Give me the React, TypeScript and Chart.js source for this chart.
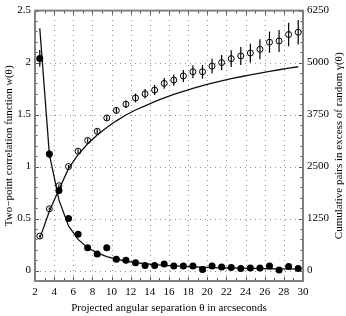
import React, { useEffect, useRef } from 'react';
import { Chart, registerables } from 'chart.js';
Chart.register(...registerables);

// ---- data ----
const thetaBins = [2.5, 3.5, 4.5, 5.5, 6.5, 7.5, 8.5, 9.5, 10.5, 11.5, 12.5, 13.5, 14.5, 15.5, 16.5, 17.5, 18.5, 19.5, 20.5, 21.5, 22.5, 23.5, 24.5, 25.5, 26.5, 27.5, 28.5, 29.5];
const wValues = [2.04, 1.12, 0.77, 0.5, 0.35, 0.22, 0.16, 0.22, 0.11, 0.1, 0.076, 0.05, 0.05, 0.064, 0.045, 0.045, 0.045, 0.01, 0.045, 0.035, 0.03, 0.02, 0.025, 0.025, 0.045, 0.005, 0.04, 0.02];
const wErrors = [0.08, 0.04, 0.03, 0.03, 0.025, 0.02, 0.02, 0.02, 0.015, 0.015, 0.015, 0.012, 0.012, 0.012, 0.012, 0.01, 0.01, 0.01, 0.01, 0.01, 0.01, 0.01, 0.01, 0.01, 0.01, 0.01, 0.01, 0.01];
const wFit = [2.33, 1.12, 0.68, 0.43, 0.3, 0.22, 0.17, 0.135, 0.11, 0.09, 0.077, 0.066, 0.057, 0.05, 0.045, 0.04, 0.036, 0.032, 0.029, 0.027, 0.025, 0.023, 0.021, 0.02, 0.018, 0.017, 0.016, 0.015];
const gammaValues = [830, 1485, 2040, 2500, 2870, 3130, 3350, 3670, 3850, 4000, 4150, 4250, 4340, 4500, 4580, 4680, 4780, 4780, 4915, 5000, 5095, 5160, 5230, 5320, 5490, 5520, 5675, 5730];
const gammaErrors = [25, 30, 35, 40, 45, 50, 55, 60, 70, 90, 105, 115, 120, 130, 135, 145, 155, 165, 175, 185, 200, 215, 225, 240, 255, 265, 280, 292];
const gammaFit = [775, 1425, 1950, 2450, 2790, 3050, 3260, 3440, 3600, 3740, 3860, 3960, 4060, 4150, 4235, 4310, 4380, 4445, 4505, 4560, 4612, 4660, 4705, 4748, 4790, 4828, 4865, 4900];
const xTicks = [2, 4, 6, 8, 10, 12, 14, 16, 18, 20, 22, 24, 26, 28, 30];
const yLeftTicks = [0, 0.5, 1, 1.5, 2, 2.5];
const yRightTicks = [0, 1250, 2500, 3750, 5000, 6250];

const X_TITLE = 'Projected angular separation θ in arcseconds';
const LEFT_TITLE = [
  { t: 'Two−point correlation function ', i: false },
  { t: 'w', i: true },
  { t: '(θ)', i: false },
];
const RIGHT_TITLE = [
  { t: 'Cumulative pairs in excess of random ', i: false },
  { t: 'γ', i: false },
  { t: '(θ)', i: false },
];

const FONT = "'Liberation Serif', 'Times New Roman', serif";

function drawRich(ctx: CanvasRenderingContext2D, parts: { t: string; i: boolean }[], size: number) {
  let total = 0;
  const widths = parts.map((p) => {
    ctx.font = `${p.i ? 'italic ' : ''}${size}px ${FONT}`;
    const w = ctx.measureText(p.t).width;
    total += w;
    return w;
  });
  let x = -total / 2;
  parts.forEach((p, k) => {
    ctx.font = `${p.i ? 'italic ' : ''}${size}px ${FONT}`;
    ctx.fillText(p.t, x, 0);
    x += widths[k];
  });
}

const decorPlugin = {
  id: 'decor',
  beforeDatasetsDraw(chart: any) {
    const { ctx, chartArea, scales } = chart;
    const { left, right, top, bottom } = chartArea;
    const x = scales.x, y = scales.y, y1 = scales.y1;
    ctx.save();
    // dotted grid
    ctx.strokeStyle = '#909090';
    ctx.lineWidth = 1;
    ctx.setLineDash([1, 4]);
    xTicks.forEach((v) => {
      if (v <= x.min || v >= x.max) return;
      const px = Math.round(x.getPixelForValue(v)) + 0.5;
      ctx.beginPath();
      ctx.moveTo(px, bottom);
      ctx.lineTo(px, top);
      ctx.stroke();
    });
    yLeftTicks.forEach((v) => {
      if (v >= y.max) return;
      const py = Math.round(y.getPixelForValue(v)) + 0.5;
      ctx.beginPath();
      ctx.moveTo(left, py);
      ctx.lineTo(right, py);
      ctx.stroke();
    });
    ctx.setLineDash([]);
    // error bars
    ctx.strokeStyle = '#000';
    ctx.lineWidth = 1.2;
    thetaBins.forEach((t, i) => {
      const px = x.getPixelForValue(t);
      ctx.beginPath();
      ctx.moveTo(px, y.getPixelForValue(wValues[i] - wErrors[i]));
      ctx.lineTo(px, y.getPixelForValue(wValues[i] + wErrors[i]));
      ctx.stroke();
      ctx.beginPath();
      ctx.moveTo(px, y1.getPixelForValue(gammaValues[i] - gammaErrors[i]));
      ctx.lineTo(px, y1.getPixelForValue(gammaValues[i] + gammaErrors[i]));
      ctx.stroke();
    });
    ctx.restore();
  },
  afterDraw(chart: any) {
    const { ctx, chartArea, scales } = chart;
    const { left, right, top, bottom } = chartArea;
    const x = scales.x, y = scales.y;
    ctx.save();
    // inward ticks
    ctx.strokeStyle = '#555';
    ctx.lineWidth = 1;
    for (let v = 2; v <= 30; v += 1) {
      const px = Math.round(x.getPixelForValue(v)) + 0.5;
      const len = v % 2 === 0 ? 4 : 3;
      ctx.beginPath();
      ctx.moveTo(px, bottom);
      ctx.lineTo(px, bottom - len);
      ctx.moveTo(px, top);
      ctx.lineTo(px, top + len);
      ctx.stroke();
    }
    for (let k = -1; k <= 25; k++) {
      const v = k / 10;
      const py = Math.round(y.getPixelForValue(v)) + 0.5;
      const len = k % 5 === 0 ? 4 : 2.5;
      ctx.beginPath();
      ctx.moveTo(left, py);
      ctx.lineTo(left + len, py);
      ctx.moveTo(right, py);
      ctx.lineTo(right - len, py);
      ctx.stroke();
    }
    // frame
    ctx.strokeStyle = '#808080';
    ctx.lineWidth = 2;
    ctx.strokeRect(left, top, right - left, bottom - top);
    // titles
    ctx.fillStyle = '#000';
    ctx.textBaseline = 'middle';
    ctx.textAlign = 'left';
    const cy = (top + bottom) / 2;
    ctx.save();
    ctx.translate(9, cy);
    ctx.rotate(-Math.PI / 2);
    drawRich(ctx, LEFT_TITLE, 11);
    ctx.restore();
    ctx.save();
    ctx.translate(339, cy);
    ctx.rotate(-Math.PI / 2);
    drawRich(ctx, RIGHT_TITLE, 11);
    ctx.restore();
    ctx.save();
    ctx.translate((left + right) / 2, 308);
    drawRich(ctx, [{ t: X_TITLE, i: false }], 11);
    ctx.restore();
    ctx.restore();
  },
};

export default function App() {
  const ref = useRef<HTMLCanvasElement>(null);
  useEffect(() => {
    if (!ref.current) return;
    const pts = (vals: number[]) => thetaBins.map((t, i) => ({ x: t, y: vals[i] }));
    const tickFont = { family: FONT, size: 11 };
    const plain = (v: any) => String(v);
    const chart = new Chart(ref.current, {
      type: 'line',
      data: {
        datasets: [
          {
            data: pts(wValues), yAxisID: 'y', showLine: false,
            pointRadius: 3.5, pointBackgroundColor: '#000', pointBorderColor: '#000', pointBorderWidth: 0,
          },
          {
            data: pts(wFit), yAxisID: 'y', borderColor: '#111', borderWidth: 1.3, pointRadius: 0, tension: 0,
          },
          {
            data: pts(gammaValues), yAxisID: 'y1', showLine: false,
            pointRadius: 3, pointBackgroundColor: 'rgba(0,0,0,0)', pointBorderColor: '#000', pointBorderWidth: 1,
          },
          {
            data: pts(gammaFit), yAxisID: 'y1', borderColor: '#111', borderWidth: 1.3, pointRadius: 0, tension: 0,
          },
        ] as any,
      },
      options: {
        responsive: false,
        animation: false,
        layout: { padding: { top: 9, left: 0, right: 0, bottom: 0 } },
        plugins: { legend: { display: false }, tooltip: { enabled: false } },
        scales: {
          x: {
            type: 'linear', min: 2, max: 30,
            afterBuildTicks: (s: any) => { s.ticks = xTicks.map((v) => ({ value: v })); },
            afterFit: (s: any) => { s.height = 35; },
            grid: { display: false, drawTicks: false },
            border: { display: false },
            ticks: { font: tickFont, color: '#000', padding: 5, maxRotation: 0, autoSkip: false, callback: plain },
          },
          y: {
            type: 'linear', position: 'left', min: -0.1, max: 2.5,
            afterBuildTicks: (s: any) => { s.ticks = yLeftTicks.map((v) => ({ value: v })); },
            afterFit: (s: any) => { s.width = 35; },
            grid: { display: false, drawTicks: false },
            border: { display: false },
            ticks: { font: tickFont, color: '#000', padding: 4, callback: plain },
          },
          y1: {
            type: 'linear', position: 'right', min: -250, max: 6250,
            afterBuildTicks: (s: any) => { s.ticks = yRightTicks.map((v) => ({ value: v })); },
            afterFit: (s: any) => { s.width = 43; },
            grid: { display: false, drawTicks: false },
            border: { display: false },
            ticks: { font: tickFont, color: '#000', padding: 4, callback: plain },
          },
        },
      } as any,
      plugins: [decorPlugin],
    });
    return () => chart.destroy();
  }, []);
  return (
    <div style={{ position: 'fixed', left: 0, top: 0, width: 346, height: 316, background: '#fff' }}>
      <canvas ref={ref} width={346} height={316} style={{ display: 'block' }} />
    </div>
  );
}
